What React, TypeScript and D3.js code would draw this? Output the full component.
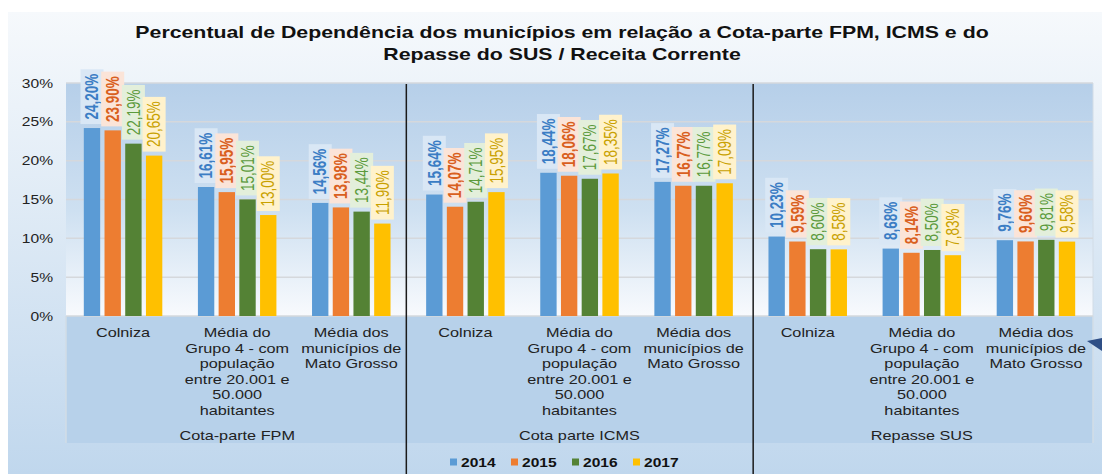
import React, { useEffect, useRef } from "react";
import * as d3 from "d3";

// chart values
const titleLines = [
  "Percentual de Dependência dos municípios em relação a Cota-parte FPM, ICMS e do",
  "Repasse do SUS / Receita Corrente",
];
const groups = ["Cota-parte FPM", "Cota parte ICMS", "Repasse SUS"];
const entityLines = [
  ["Colniza"],
  ["Média do", "Grupo 4 - com", "população", "entre 20.001 e", "50.000", "habitantes"],
  ["Média dos", "municípios de", "Mato Grosso"],
];
const years = ["2014", "2015", "2016", "2017"];
const fpm = [
  [24.2, 23.9, 22.19, 20.65],
  [16.61, 15.95, 15.01, 13.0],
  [14.56, 13.98, 13.44, 11.9],
];
const icms = [
  [15.64, 14.07, 14.71, 15.95],
  [18.44, 18.06, 17.67, 18.35],
  [17.27, 16.77, 16.77, 17.09],
];
const sus = [
  [10.23, 9.59, 8.6, 8.58],
  [8.68, 8.14, 8.5, 7.83],
  [9.76, 9.6, 9.81, 9.58],
];
const yTicks = [0, 5, 10, 15, 20, 25, 30];

const barColors = ["#5b9bd5", "#ed7d31", "#548235", "#ffc000"];
const labelColors = ["#3b7dc4", "#d95f1e", "#5b9a3c", "#c9a100"];
const boxColors = ["#d9e7f5", "#fbe4d8", "#e3efdb", "#fff2cc"];
const labelWeights = ["bold", "bold", "normal", "normal"];

const W = 1102;
const H = 474;
const FONT = "'Liberation Sans', Arial, sans-serif";
const SX = 1.3; // the reference is stretched horizontally

const App = () => {
  const ref = useRef<SVGSVGElement>(null);

  useEffect(() => {
    const svg = d3.select(ref.current);
    svg.selectAll("*").remove();

    const plot = { left: 66, right: 1093, top: 83, bottom: 316 };
    const axisBottom = 443;

    const defs = svg.append("defs");
    const outer = defs.append("linearGradient").attr("id", "outerBg").attr("x1", 0).attr("x2", 0).attr("y1", 0).attr("y2", 1);
    outer.append("stop").attr("offset", 0).attr("stop-color", "#f6f9fc");
    outer.append("stop").attr("offset", 1).attr("stop-color", "#c0d7ed");
    const inner = defs.append("linearGradient").attr("id", "plotBg").attr("x1", 0).attr("x2", 0).attr("y1", 0).attr("y2", 1);
    inner.append("stop").attr("offset", 0).attr("stop-color", "#b6cfe9");
    inner.append("stop").attr("offset", 0.55).attr("stop-color", "#cee0f1");
    inner.append("stop").attr("offset", 1).attr("stop-color", "#f8fafd");

    svg.append("rect").attr("x", 0).attr("y", 0).attr("width", W).attr("height", H).attr("fill", "#fff");
    svg.append("rect").attr("x", 8).attr("y", 12).attr("width", W - 8).attr("height", H - 12).attr("fill", "url(#outerBg)");

    // plot and category areas
    svg.append("rect")
      .attr("x", plot.left).attr("y", plot.top)
      .attr("width", plot.right - plot.left).attr("height", plot.bottom - plot.top)
      .attr("fill", "url(#plotBg)");
    svg.append("rect")
      .attr("x", plot.left).attr("y", plot.bottom)
      .attr("width", plot.right - plot.left).attr("height", axisBottom - plot.bottom)
      .attr("fill", "#b7d1ea");
    [plot.left, plot.right].forEach((x) =>
      svg.append("line").attr("x1", x).attr("x2", x).attr("y1", plot.bottom).attr("y2", axisBottom)
        .attr("stroke", "#d2dce6").attr("stroke-width", 1.5)
    );
    svg.append("line").attr("x1", plot.right).attr("x2", plot.right).attr("y1", plot.top).attr("y2", plot.bottom)
      .attr("stroke", "#d2dce6").attr("stroke-width", 1);

    const y = d3.scaleLinear().domain([0, 30]).range([plot.bottom, plot.top]);

    const keys = groups.flatMap((g) => entityLines.map((_, i) => `${g}|${i}`));
    const x0 = d3.scaleBand().domain(keys).range([plot.left, plot.right]).padding(0);
    const x1 = d3.scaleBand().domain(years).range([0, x0.bandwidth()]).paddingInner(0.21).paddingOuter(0.86);
    const xg = d3.scaleBand().domain(groups).range([plot.left, plot.right]).padding(0);

    // gridlines + y labels
    svg.append("g").selectAll("line").data(yTicks).join("line")
      .attr("x1", plot.left).attr("x2", plot.right)
      .attr("y1", (d) => y(d)).attr("y2", (d) => y(d))
      .attr("stroke", "#d5d8dc").attr("stroke-width", 1.5);
    svg.append("g").selectAll("text").data(yTicks).join("text")
      .attr("transform", (d) => `translate(53,${y(d) + 4.5}) scale(${SX},1)`)
      .attr("text-anchor", "end")
      .style("font", `12px ${FONT}`).attr("fill", "#222")
      .text((d) => `${d}%`);

    const table = groups.flatMap((g, gi) =>
      [fpm, icms, sus][gi].flatMap((vals, ei) =>
        vals.map((v, si) => ({ key: `${g}|${ei}`, year: years[si], si, v }))
      )
    );

    svg.append("g").selectAll("rect").data(table).join("rect")
      .attr("x", (d) => x0(d.key)! + x1(d.year)!)
      .attr("y", (d) => y(d.v))
      .attr("width", x1.bandwidth())
      .attr("height", (d) => y(0) - y(d.v))
      .attr("fill", (d) => barColors[d.si]);

    // data labels: rotated text in tinted boxes
    const labels = svg.append("g");
    table.forEach((d) => {
      const cx = x0(d.key)! + x1(d.year)! + x1.bandwidth() / 2;
      const base = y(d.v) - 4;
      const g = labels.append("g").attr("transform", `translate(${cx},${base})`);
      const box = g.append("rect");
      const t = g.append("text")
        .attr("transform", `scale(${SX},1) rotate(-90)`)
        .attr("x", 4.5).attr("y", 4.8)
        .style("font", `${labelWeights[d.si]} 13.5px ${FONT}`)
        .attr("fill", labelColors[d.si])
        .text(`${d.v.toFixed(2).replace(".", ",")}%`);
      const len = (t.node() as SVGTextElement).getComputedTextLength();
      box.attr("x", -11.5).attr("width", 23).attr("y", -(len + 9)).attr("height", len + 9)
        .attr("fill", boxColors[d.si]);
    });

    // category labels
    keys.forEach((k) => {
      const ei = +k.split("|")[1];
      const cx = x0(k)! + x0.bandwidth() / 2;
      entityLines[ei].forEach((line, li) => {
        svg.append("text")
          .attr("transform", `translate(${cx},${337 + li * 15.5}) scale(${SX},1)`)
          .attr("text-anchor", "middle")
          .style("font", `12.5px ${FONT}`).attr("fill", "#222")
          .text(line);
      });
    });
    groups.forEach((g) => {
      svg.append("text")
        .attr("transform", `translate(${xg(g)! + xg.bandwidth() / 2},439.5) scale(${SX},1)`)
        .attr("text-anchor", "middle")
        .style("font", `12.5px ${FONT}`).attr("fill", "#222")
        .text(g);
    });

    // group separators (drawn shapes, slightly off the band edges in the original)
    const sepOffset = [-2, 2.5];
    groups.slice(1).forEach((g, i) => {
      const x = xg(g)! + sepOffset[i];
      svg.append("line").attr("x1", x).attr("x2", x).attr("y1", plot.top + 1).attr("y2", H)
        .attr("stroke", "#1a1a1a").attr("stroke-width", 1.5);
    });

    // legend
    const leg = svg.append("g").selectAll("g").data(years).join("g")
      .attr("transform", (_, i) => `translate(${450 + i * 61},462)`);
    leg.append("rect").attr("x", 0).attr("y", -3.5).attr("width", 7).attr("height", 7)
      .attr("fill", (_, i) => barColors[i]);
    leg.append("text")
      .attr("transform", `translate(11,4.5) scale(${SX},1)`)
      .style("font", `bold 12px ${FONT}`).attr("fill", "#111")
      .text((d) => d);

    // title
    titleLines.forEach((line, i) => {
      svg.append("text")
        .attr("transform", `translate(562,${38 + i * 22}) scale(${SX},1)`)
        .attr("text-anchor", "middle")
        .style("font", `bold 16.4px ${FONT}`).attr("fill", "#111")
        .text(line);
    });

    // small marker at the right edge
    svg.append("path").attr("d", "M1087,341 L1102,338 L1102,351 Z").attr("fill", "#2f4f86");
  }, []);

  return (
    <svg
      ref={ref}
      width={W}
      height={H}
      style={{ position: "absolute", left: 0, top: 0 }}
    />
  );
};

export default App;
